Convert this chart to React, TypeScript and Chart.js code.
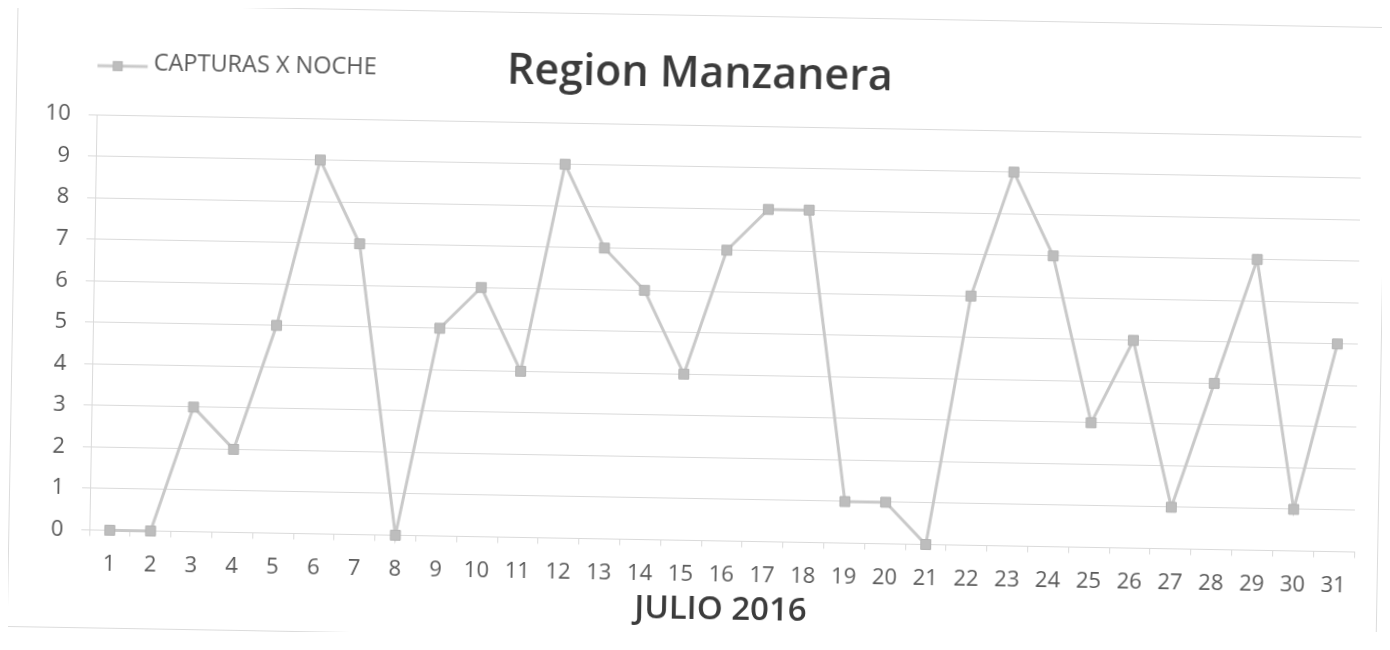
import React, { useEffect, useRef } from 'react';
import { Chart, registerables } from 'chart.js';

Chart.register(...registerables);

// ---- data ----
const DAYS = ['1', '2', '3', '4', '5', '6', '7', '8', '9', '10', '11', '12', '13', '14', '15', '16',
  '17', '18', '19', '20', '21', '22', '23', '24', '25', '26', '27', '28', '29', '30', '31'];
const CAPTURAS = [0, 0, 3, 2, 5, 9, 7, 0, 5, 6, 4, 9, 7, 6, 4, 7, 8, 8, 1, 1, 0, 6, 9, 7, 3, 5, 1, 4, 7, 1, 5];
const SERIES_LABEL = 'CAPTURAS X NOCHE';
const CHART_TITLE = 'Region Manzanera';
const X_TITLE = 'JULIO 2016';
const Y_MIN = 0;
const Y_MAX = 10;
const Y_STEP = 1;

const LINE_COLOR = '#c9c9c9';
const MARKER_FILL = '#bdbdbd';
const MARKER_BORDER = '#b3b3b3';
const GRID_COLOR = '#dadada';
const TEXT_GREY = '#5a5a5a';
const TEXT_DARK = '#3b3b3b';
const FONT = "'Open Sans', 'DejaVu Sans', sans-serif";

const W = 1368;
const H = 622;

function makeLegendIcon(): HTMLCanvasElement {
  const c = document.createElement('canvas');
  c.width = 64;
  c.height = 22;
  const g = c.getContext('2d')!;
  g.strokeStyle = LINE_COLOR;
  g.lineWidth = 3;
  g.beginPath();
  g.moveTo(0, 14);
  g.lineTo(55, 14);
  g.stroke();
  g.fillStyle = MARKER_FILL;
  g.fillRect(20, 9, 10, 10);
  g.strokeStyle = MARKER_BORDER;
  g.lineWidth = 1;
  g.strokeRect(20.5, 9.5, 9, 9);
  return c;
}

export default function App() {
  const ref = useRef<HTMLCanvasElement | null>(null);

  useEffect(() => {
    document.documentElement.style.overflow = 'hidden';
    document.body.style.overflow = 'hidden';
    const canvas = ref.current;
    if (!canvas) return;
    const icon = makeLegendIcon();
    const chart = new Chart(canvas, {
      type: 'line',
      data: {
        labels: DAYS,
        datasets: [
          {
            label: SERIES_LABEL,
            data: CAPTURAS,
            borderColor: LINE_COLOR,
            backgroundColor: MARKER_FILL,
            borderWidth: 3,
            pointStyle: 'rect',
            pointRadius: 7,
            pointHoverRadius: 7,
            pointBackgroundColor: MARKER_FILL,
            pointBorderColor: MARKER_BORDER,
            pointBorderWidth: 1,
            tension: 0,
            clip: false as any,
          },
        ],
      },
      options: {
        responsive: false,
        animation: false,
        devicePixelRatio: 1,
        layout: { padding: { top: 35.5, left: 20, right: 23, bottom: 0 } },
        plugins: {
          legend: {
            display: true,
            position: 'top',
            align: 'start',
            fullSize: false,
            weight: 1000,
            labels: {
              usePointStyle: true,
              pointStyle: icon as any,
              pointStyleWidth: 34.4,
              padding: 10,
              color: TEXT_GREY,
              font: { family: FONT, size: 23.5 },
            },
          },
          title: {
            display: true,
            text: CHART_TITLE,
            position: 'top',
            weight: 500,
            color: TEXT_DARK,
            font: { family: FONT, size: 43, weight: 600 },
            padding: { top: -46, bottom: 24.5 },
          },
          tooltip: { enabled: false },
        },
        scales: {
          x: {
            type: 'category',
            offset: true,
            afterFit: (scale: any) => {
              scale.height = 97.5;
            },
            grid: {
              display: true,
              drawOnChartArea: false,
              drawTicks: true,
              tickLength: 6,
              offset: true,
              color: GRID_COLOR,
            },
            border: { display: true, color: GRID_COLOR },
            ticks: {
              autoSkip: false,
              maxRotation: 0,
              padding: 15,
              color: TEXT_GREY,
              font: { family: FONT, size: 22 },
            },
            title: {
              display: true,
              text: X_TITLE,
              color: TEXT_DARK,
              font: { family: FONT, size: 33, weight: 600 },
              padding: { top: 0, bottom: 9 },
            },
          },
          y: {
            min: Y_MIN,
            max: Y_MAX,
            afterFit: (scale: any) => {
              scale.width = 60;
            },
            grid: {
              color: GRID_COLOR,
              lineWidth: 1,
              drawTicks: true,
              tickLength: 8,
            },
            border: { display: true, color: GRID_COLOR },
            ticks: {
              stepSize: Y_STEP,
              padding: 18,
              color: TEXT_GREY,
              font: { family: FONT, size: 22 },
            },
          },
        },
      },
    });
    return () => chart.destroy();
  }, []);

  return (
    <div
      style={{
        position: 'relative',
        left: 4,
        top: 7,
        width: W,
        height: H,
        border: '1px solid #dcdcdc',
        background: '#ffffff',
        transform: 'rotate(1deg)',
      }}
    >
      <canvas ref={ref} width={W} height={H} style={{ display: 'block', width: W, height: H }} />
    </div>
  );
}
